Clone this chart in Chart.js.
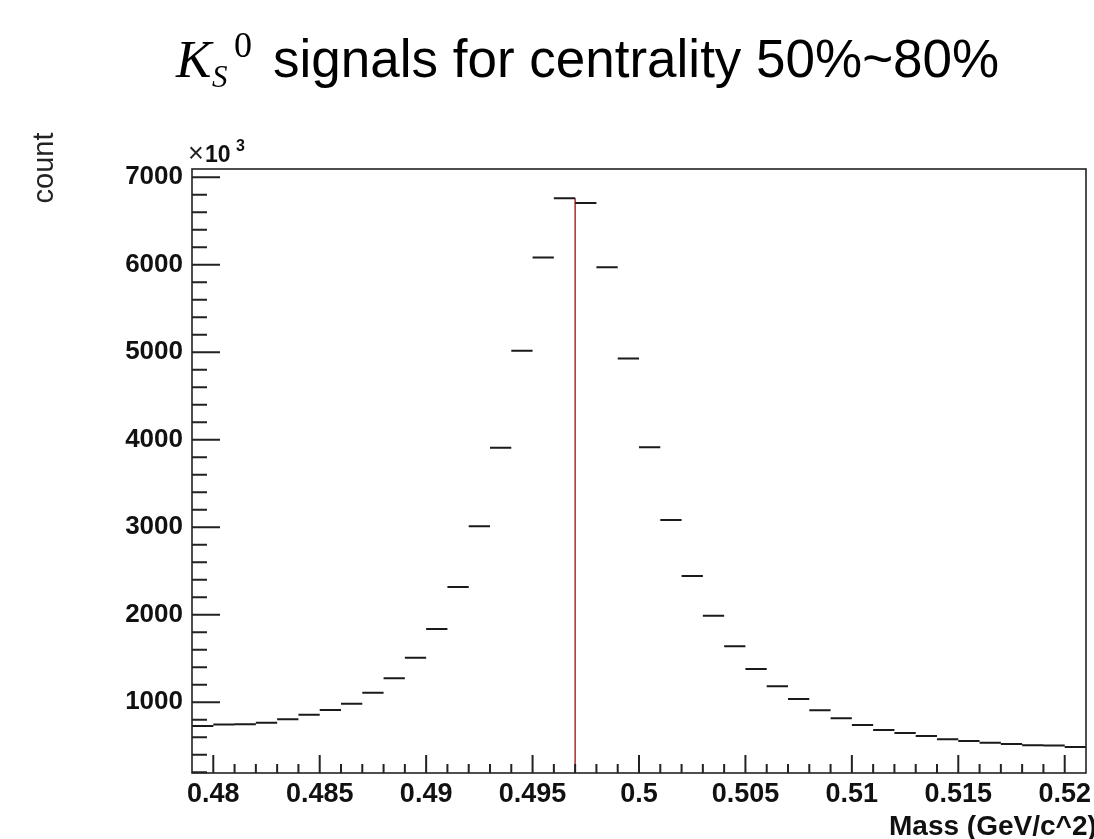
<!DOCTYPE html>
<html>
<head>
<meta charset="utf-8">
<script src="https://cdn.jsdelivr.net/npm/chart.js@4.4.1/dist/chart.umd.min.js"></script>
<style>
  html, body { margin: 0; padding: 0; background: #fff; overflow: hidden; }
  #wrap { position: relative; width: 1094px; height: 839px; }
  #c { position: absolute; left: 0; top: 0; }
  .t { position: absolute; white-space: nowrap; color: #000; }
</style>
</head>
<body>
<div id="wrap">
  <canvas id="c" width="1094" height="839"></canvas>
  <!-- title: K_S^0 signals ... -->
  <span class="t" style="left:176px;top:33px;font:italic 53px/53px 'Liberation Serif',serif;">K</span>
  <span class="t" style="left:212px;top:61px;font:italic 31px/31px 'Liberation Serif',serif;">S</span>
  <span class="t" style="left:234px;top:27px;font:36px/36px 'Liberation Serif',serif;">0</span>
  <span class="t" style="left:273px;top:32px;font:53px/53px 'Liberation Sans',Arial,sans-serif;">signals for centrality 50%~80%</span>
  <!-- y title -->
  <span class="t" style="left:43px;top:168px;font:29px/29px 'Liberation Sans',Arial,sans-serif;color:#222;transform:translate(-50%,-50%) rotate(-90deg);">count</span>
  <!-- exponent -->
  <span class="t" style="left:188px;top:140px;font:27px/27px 'Liberation Sans',Arial,sans-serif;color:#222;">×</span>
  <span class="t" style="left:205px;top:143px;font:bold 23px/23px 'Liberation Sans',Arial,sans-serif;color:#111;">10</span>
  <span class="t" style="left:236px;top:138px;font:bold 16px/16px 'Liberation Sans',Arial,sans-serif;color:#111;">3</span>
  <!-- x title -->
  <span class="t" style="left:889px;top:812px;font:bold 28px/28px 'Liberation Sans',Arial,sans-serif;color:#111;">Mass (GeV/c^2)</span>
</div>
<script>
// histogram bins (low edge), width 0.001 GeV/c^2
const massBins = [0.479, 0.480, 0.481, 0.482, 0.483, 0.484, 0.485, 0.486, 0.487, 0.488,
                  0.489, 0.490, 0.491, 0.492, 0.493, 0.494, 0.495, 0.496, 0.497, 0.498,
                  0.499, 0.500, 0.501, 0.502, 0.503, 0.504, 0.505, 0.506, 0.507, 0.508,
                  0.509, 0.510, 0.511, 0.512, 0.513, 0.514, 0.515, 0.516, 0.517, 0.518,
                  0.519, 0.520];
const binWidth = 0.001;
// counts (x10^3)
const counts = [728, 744, 746, 765, 804, 855, 911, 981, 1108, 1273,
                1508, 1836, 2316, 3010, 3908, 5017, 6084, 6760, 6705, 5973,
                4930, 3913, 3082, 2442, 1988, 1639, 1379, 1181, 1036, 907,
                816, 739, 682, 648, 613, 576, 556, 537, 522, 507,
                503, 488];
// red marker line
const markMass = 0.497;

const xTicks = [0.48, 0.485, 0.49, 0.495, 0.5, 0.505, 0.51, 0.515, 0.52];
const xTickLabels = ['0.48', '0.485', '0.49', '0.495', '0.5', '0.505', '0.51', '0.515', '0.52'];
const yTicks = [1000, 2000, 3000, 4000, 5000, 6000, 7000];
const yTickLabels = ['1000', '2000', '3000', '4000', '5000', '6000', '7000'];

const xMin = 0.479, xMax = 0.521;
const yMin = 190, yMax = 7095;

// one flat segment per bin, broken by nulls
const histPoints = [];
massBins.forEach((lo, i) => {
  histPoints.push({ x: lo, y: counts[i] });
  histPoints.push({ x: lo + binWidth, y: counts[i] });
  histPoints.push({ x: lo + binWidth, y: null });
});
const peak = Math.max(...counts);

// ROOT style frame + inward ticks
const rootAxes = {
  id: 'rootAxes',
  afterDatasetsDraw(chart) {
    const { ctx, chartArea: a, scales: { x, y } } = chart;
    ctx.save();
    ctx.strokeStyle = '#222';
    ctx.lineWidth = 1.6;
    ctx.strokeRect(a.left, a.top, a.right - a.left, a.bottom - a.top);
    ctx.lineWidth = 2;
    ctx.beginPath();
    for (let v = 200; v <= yMax; v += 200) {
      if (v < yMin) continue;
      const py = y.getPixelForValue(v);
      const len = v % 1000 === 0 ? 28 : 15;
      ctx.moveTo(a.left, py);
      ctx.lineTo(a.left + len, py);
    }
    for (let k = 480; k <= 520; k++) {
      const px = x.getPixelForValue(k / 1000);
      const len = k % 5 === 0 ? 18 : 9;
      ctx.moveTo(px, a.bottom);
      ctx.lineTo(px, a.bottom - len);
    }
    ctx.stroke();
    ctx.restore();
  }
};

new Chart(document.getElementById('c'), {
  type: 'line',
  data: {
    datasets: [
      {
        data: histPoints,
        borderColor: '#1a1a1a',
        borderWidth: 2,
        pointRadius: 0,
        spanGaps: false,
        tension: 0
      },
      {
        data: [{ x: markMass, y: yMin }, { x: markMass, y: peak }],
        borderColor: '#b03a3a',
        borderWidth: 1.6,
        pointRadius: 0
      }
    ]
  },
  options: {
    responsive: false,
    animation: false,
    layout: { padding: { left: 0, top: 169, right: 8, bottom: 0 } },
    plugins: { legend: { display: false }, title: { display: false }, tooltip: { enabled: false } },
    scales: {
      x: {
        type: 'linear',
        min: xMin, max: xMax,
        grid: { display: false, drawTicks: false },
        border: { display: false },
        afterBuildTicks: s => { s.ticks = xTicks.map(v => ({ value: v })); },
        afterFit: s => { s.height = 66; s.paddingLeft = 0; s.paddingRight = 0; },
        ticks: {
          padding: 5,
          maxRotation: 0,
          autoSkip: false,
          color: '#111',
          font: { family: "'Liberation Sans', Arial, sans-serif", size: 27, weight: 'bold' },
          callback: (v, i) => xTickLabels[i]
        }
      },
      y: {
        min: yMin, max: yMax,
        grid: { display: false, drawTicks: false },
        border: { display: false },
        afterBuildTicks: s => { s.ticks = yTicks.map(v => ({ value: v })); },
        afterFit: s => { s.width = 192; s.paddingTop = 0; s.paddingBottom = 0; },
        ticks: {
          padding: 9,
          color: '#111',
          font: { family: "'Liberation Sans', Arial, sans-serif", size: 26, weight: 'bold' },
          callback: (v, i) => yTickLabels[i]
        }
      }
    }
  },
  plugins: [rootAxes]
});
</script>
</body>
</html>
